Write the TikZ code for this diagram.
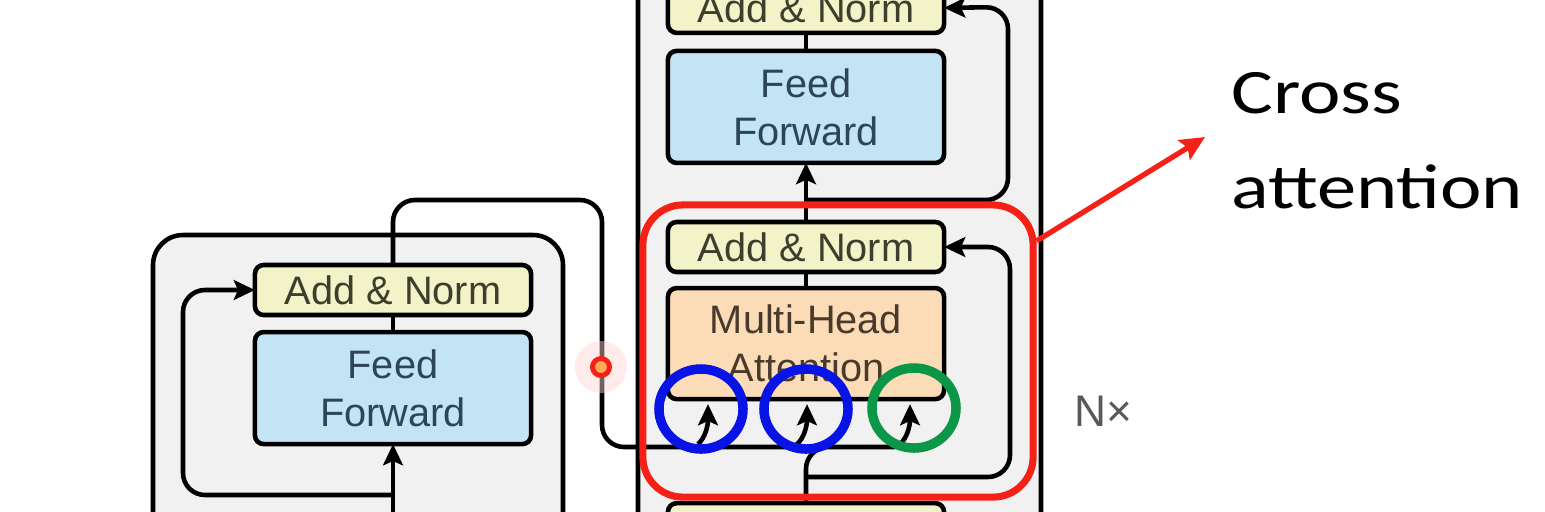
\documentclass[tikz,border=0pt]{standalone}
\usepackage{fontspec}
\setmainfont{Liberation Sans}
\newfontfamily\calloutfont{Carlito}
\usetikzlibrary{positioning,arrows.meta,shapes.geometric,calc}

\definecolor{normyellow}{RGB}{242,243,200}
\definecolor{ffblue}{RGB}{194,228,245}
\definecolor{attnorange}{RGB}{252,220,182}
\definecolor{stackgray}{RGB}{241,241,241}
\definecolor{normtext}{RGB}{62,62,44}
\definecolor{fftext}{RGB}{44,70,88}
\definecolor{attntext}{RGB}{72,58,44}
\definecolor{markred}{RGB}{245,32,22}
\definecolor{kvblue}{RGB}{8,20,230}
\definecolor{qgreen}{RGB}{12,150,72}

\begin{document}
\begin{tikzpicture}[
    x=0.01cm, y=-0.01cm,
    line width=1.3pt,
    layer/.style={rectangle, draw, rounded corners=2.5pt, minimum width=2.76cm, outer sep=0pt, inner sep=0pt, align=center, font=\fontsize{11.3}{13.7}\selectfont},
    addnorm/.style={layer, fill=normyellow, text=normtext, minimum height=0.5cm},
    ffbox/.style={layer, fill=ffblue, text=fftext, minimum height=1.12cm},
    attnbox/.style={layer, fill=attnorange, text=attntext, minimum height=1.11cm},
    stack/.style={draw, fill=stackgray, rounded corners=0.3cm},
    wire/.style={rounded corners=0.22cm},
    arrow/.style={wire, -{Stealth[length=6pt, width=5.6pt, inset=1.2pt]}},
    ring/.style={ellipse, draw=#1, line width=2.7pt, minimum width=0.84cm, minimum height=0.80cm, inner sep=0pt},
    hilite/.style={rectangle, draw=markred, line width=2pt, rounded corners=0.4cm, minimum width=3.9cm, minimum height=2.92cm},
    redarrow/.style={draw=markred, line width=1.5pt, -{Stealth[length=7pt, width=6.5pt, inset=1.2pt]}},
    pointer/.style={circle, draw=markred, fill=orange!65, line width=1.4pt, minimum size=0.17cm, inner sep=0pt},
    callout/.style={inner sep=0pt, font=\calloutfont\fontsize{18}{27}\selectfont},
    nlabel/.style={text=black!65, font=\fontsize{12.6}{14}\selectfont}
]
    \useasboundingbox (0,0) rectangle (1545,511);

    % stacks
    \draw[stack] (153,235) rectangle (563,580);
    \draw[stack] (638,-60) rectangle (1041,580);

    % encoder layer
    \node[addnorm] (encadd) at (393,290) {Add \& Norm};
    \node[ffbox, below=0.17cm of encadd] (encff) {Feed\\Forward};

    % decoder layer
    \node[addnorm] (crossadd) at (806,247) {Add \& Norm};
    \node[attnbox, below=0.16cm of crossadd] (mha) {Multi-Head\\Attention};
    \node[ffbox, above=0.59cm of crossadd] (decff) {Feed\\Forward};
    \node[addnorm, above=0.18cm of decff] (topadd) {Add \& Norm};
    \node[addnorm, below=1.04cm of mha] (maskadd) {};

    \coordinate (encin) at (393,530);
    \coordinate (encres) at (393,495);
    \coordinate (enclft) at (183,495);
    \coordinate (encturn) at (602,200);
    \coordinate (kvend) at (806,447);
    \coordinate (qend) at (895,447);
    \coordinate (res1) at (806,477);
    \coordinate (res1rt) at (1010,247);
    \coordinate (res2) at ($(crossadd.north)+(0,-22)$);
    \coordinate (res2rt) at (1008,7);

    % encoder wires
    \draw[arrow] (encin) -- (encff.south);
    \draw[arrow] (encres) -- (enclft) |- (encadd.west);
    \draw (encff.north) -- (encadd.south);
    \draw[wire] (encadd.north) |- (encturn) |- (kvend);

    % decoder wires
    \draw[wire] (maskadd.north) |- (qend);
    \draw[arrow] (res1) -| (res1rt) -- (crossadd.east);
    \draw (mha.north) -- (crossadd.south);
    \draw[arrow] (crossadd.north) -- (decff.south);
    \draw[arrow] (res2) -| (res2rt) -- (topadd.east);
    \draw (decff.north) -- (topadd.south);
    \foreach \dx in {-98,1,104}
        \draw[arrow] ($(mha.south)+(\dx-10,45)$) .. controls +(7,-6) and +(0,22) .. ($(mha.south)+(\dx,5)$);

    % marks
    \node[hilite] (crossbox) at (838,351) {};
    \node[ring=kvblue] (kring) at (701,409) {};
    \node[ring=kvblue] (vring) at (806,409) {};
    \node[ring=qgreen] (qring) at (914,408) {};
    \fill[markred!20, opacity=0.45] (601,367) circle (26);
    \node[pointer] (laser) at (601,367) {};

    \node[nlabel] (nx) at (1103,411) {N×};
    \node[callout, anchor=west] (crosslbl) at (1229,142) {\scalebox{1.24}[1]{\begin{tabular}{@{}l@{}}Cross\\attention\end{tabular}}};
    \draw[redarrow] (crossbox.29) -- ($(crosslbl.west)+(-24,-5)$);

\end{tikzpicture}
\end{document}
